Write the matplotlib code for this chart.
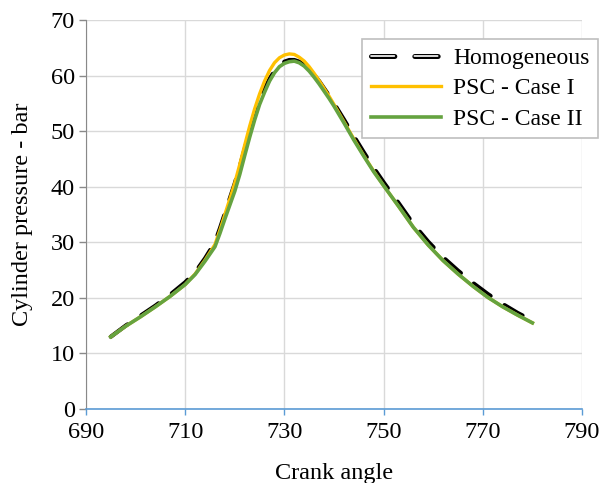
import matplotlib.pyplot as plt
import matplotlib.patheffects as pe
from matplotlib.lines import Line2D

plt.rcParams['font.family'] = ['Liberation Serif', 'DejaVu Serif']

# crank angle (deg) shared by all three runs
crank = [695, 698, 701, 704, 707, 710, 712, 714, 716, 717, 718, 719, 720,
         721, 722, 723, 724, 725, 726, 727, 728, 729, 730, 731, 732, 733,
         734, 735, 736, 737, 738, 739, 740, 742, 744, 746, 748, 750, 753,
         756, 759, 762, 765, 768, 771, 774, 777, 780]

# cylinder pressure (bar)
homogeneous = [13.0, 15.0, 16.8, 18.6, 20.6, 22.8, 24.6, 27.1, 30.0, 32.5,
               35.2, 37.9, 40.6, 43.6, 46.8, 49.9, 52.8, 55.4, 57.6, 59.4,
               60.8, 61.8, 62.5, 62.8, 62.8, 62.5, 61.9, 61.1, 60.1, 59.0,
               57.7, 56.4, 55.0, 52.1, 49.1, 46.2, 43.4, 40.8, 37.1, 33.3,
               30.1, 27.3, 24.9, 22.7, 20.7, 18.9, 17.3, 15.9]
psc_case1 = [13.0, 14.9, 16.6, 18.4, 20.3, 22.4, 24.3, 26.8, 29.6, 32.2,
             35.0, 37.8, 40.7, 44.0, 47.5, 50.9, 54.0, 56.7, 59.0, 60.9,
             62.3, 63.2, 63.7, 63.9, 63.8, 63.3, 62.6, 61.6, 60.4, 59.1,
             57.7, 56.3, 54.8, 51.7, 48.6, 45.6, 42.8, 40.2, 36.5, 32.7,
             29.5, 26.7, 24.3, 22.1, 20.1, 18.4, 16.9, 15.5]
psc_case2 = [13.0, 14.9, 16.6, 18.4, 20.3, 22.4, 24.2, 26.6, 29.2, 31.6,
             34.2, 36.7, 39.2, 42.2, 45.6, 48.9, 52.0, 54.8, 57.0, 59.0,
             60.5, 61.6, 62.2, 62.5, 62.6, 62.3, 61.7, 60.8, 59.7, 58.5,
             57.2, 55.9, 54.5, 51.5, 48.4, 45.5, 42.7, 40.2, 36.5, 32.7,
             29.5, 26.7, 24.3, 22.1, 20.1, 18.4, 16.9, 15.5]

fig = plt.figure(figsize=(6, 4.83), dpi=100)
ax = fig.add_axes([0.1433, 0.1532, 0.8267, 0.8054])

ax.plot(crank, homogeneous, color='black', lw=3, dashes=(5, 4),
        dash_capstyle='round', zorder=3)
ax.plot(crank, psc_case1, color='#FFC000', lw=2.4, zorder=4)
ax.plot(crank, psc_case2, color='#65A340', lw=2.6, zorder=5)

ax.set_xlim(690, 790)
ax.set_ylim(0, 70)
ax.set_xticks(range(690, 791, 20))
ax.set_yticks(range(0, 71, 10))
ax.grid(True, color='#D9D9D9', lw=1, zorder=0)
ax.set_axisbelow(True)

for side in ('top', 'right'):
    ax.spines[side].set_visible(False)
ax.spines['left'].set_color('#898989')
ax.spines['bottom'].set_color('#5B9BD5')
ax.spines['bottom'].set_linewidth(1.2)
ax.tick_params(axis='y', colors='#898989', labelcolor='black', length=5,
               width=1, labelsize=17.5, pad=3)
ax.tick_params(axis='x', colors='#5B9BD5', labelcolor='black', length=4,
               width=1, labelsize=17.5, pad=5)

ax.set_xlabel('Crank angle', fontsize=17.5, labelpad=15)
ax.set_ylabel('Cylinder pressure - bar', fontsize=17.5, labelpad=13)

# hollow dash for the homogeneous entry
homo_handle = Line2D([], [], color='white', lw=1.2, dashes=(14, 12),
                     dash_capstyle='round',
                     path_effects=[pe.Stroke(linewidth=3.6, foreground='black'),
                                   pe.Normal()])
case1_handle = Line2D([], [], color='#FFC000', lw=2.4)
case2_handle = Line2D([], [], color='#65A340', lw=2.6)
leg = ax.legend([homo_handle, case1_handle, case2_handle],
                ['Homogeneous', 'PSC - Case I', 'PSC - Case II'],
                loc='upper right', bbox_to_anchor=(1.032, 0.951),
                fontsize=17, frameon=True, fancybox=False, framealpha=1,
                edgecolor='#BFBFBF', handlelength=3.0, handletextpad=0.5,
                labelspacing=0.38, borderpad=0.35, borderaxespad=0)
leg.get_frame().set_linewidth(1.2)
leg.set_zorder(10)

fig.savefig('out.png', dpi=100)
